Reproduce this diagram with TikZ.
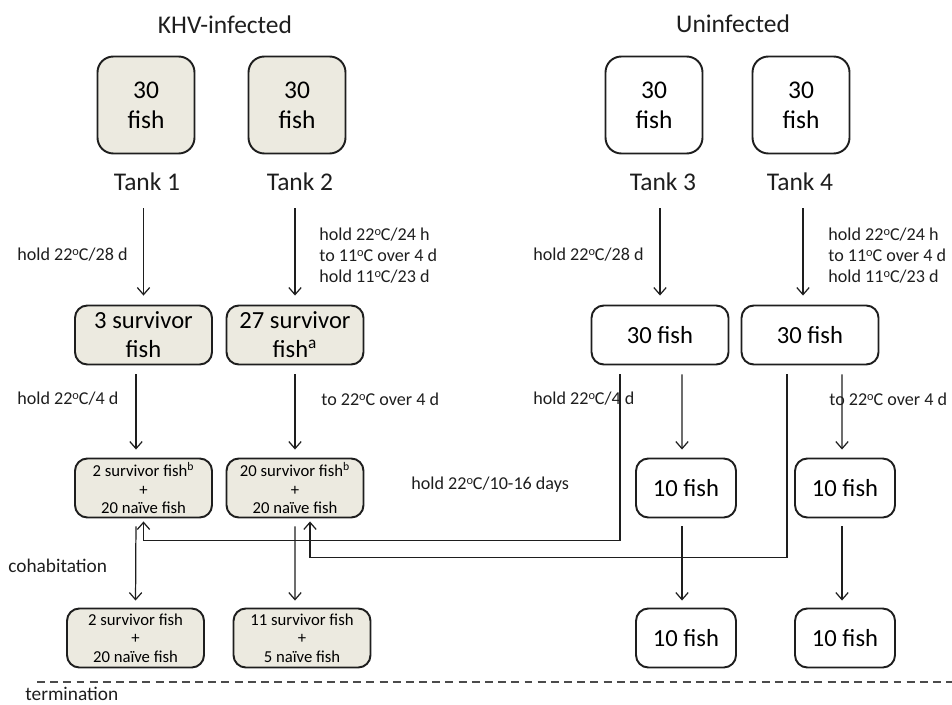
\documentclass[tikz,border=0pt]{standalone}
\usepackage{fontspec}
\setmainfont{Carlito}
\usetikzlibrary{arrows.meta}
\definecolor{khvfill}{RGB}{236,234,224}
\definecolor{inkgrey}{RGB}{30,30,30}
\tikzset{
  title/.style={font=\fontsize{14.5}{17}\selectfont, text=inkgrey},
  tanklab/.style={font=\fontsize{14.5}{17}\selectfont, text=inkgrey},
  steplab/.style={font=\fontsize{10.3}{12}\selectfont, anchor=west, align=left, inner sep=0pt, text=inkgrey},
  khv/.style={fill=khvfill},
  tankbox/.style={draw=inkgrey, rounded corners=9pt, line width=1.1pt, minimum width=1.94cm, minimum height=1.94cm, align=center, font=\fontsize{14.5}{17}\selectfont},
  groupbox/.style={draw=inkgrey, rounded corners=7pt, line width=1.1pt, minimum width=2.74cm, minimum height=1.18cm, align=center, font=\fontsize{14}{16.5}\selectfont},
  mixbox/.style={draw=inkgrey, rounded corners=7pt, line width=1.1pt, minimum width=2.74cm, minimum height=1.18cm, align=center, inner sep=1pt, font=\fontsize{9.5}{10.5}\selectfont},
  smallbox/.style={draw=inkgrey, rounded corners=7pt, line width=1.1pt, minimum width=2cm, minimum height=1.18cm, align=center, font=\fontsize{14}{16.5}\selectfont},
  arr/.style={draw=inkgrey, line width=0.7pt, -{Straight Barb[length=4pt,width=7pt]}},
}
\newcommand{\degC}{{\fontsize{7}{7}\selectfont\raisebox{0.85ex}{o}}C}
\begin{document}
\begin{tikzpicture}[x=0.02cm, y=-0.02cm]
\useasboundingbox (0,0) rectangle (952,705);

% headings
\node[title] (khvhead) at (225,25) {KHV-infected};
\node[title] (unhead) at (733,24) {Uninfected};

% tanks
\node[tankbox, khv] (tank1) at (146,105) {30\\fish};
\node[tankbox, khv] (tank2) at (297,105) {30\\fish};
\node[tankbox] (tank3) at (654,105) {30\\fish};
\node[tankbox] (tank4) at (801,105) {30\\fish};
\node[tanklab] (lab1) at (147,182) {Tank 1};
\node[tanklab] (lab2) at (300,182) {Tank 2};
\node[tanklab] (lab3) at (663,182) {Tank 3};
\node[tanklab] (lab4) at (800,182) {Tank 4};

% after holding
\node[groupbox, khv] (surv1) at (143.5,335) {3 survivor\\fish};
\node[groupbox, khv] (surv2) at (295,335) {27 survivor\\fish\textsuperscript{a}};
\node[groupbox] (ctrl3) at (660,335) {30 fish};
\node[groupbox] (ctrl4) at (810,335) {30 fish};

% cohabitation tanks
\node[mixbox, khv] (mix1) at (143.5,488) {2 survivor fish$^{\mathrm{b}}$\\+\\20 naïve fish};
\node[mixbox, khv] (mix2) at (295,488) {20 survivor fish$^{\mathrm{b}}$\\+\\20 naïve fish};
\node[smallbox] (ten3) at (686,488) {10 fish};
\node[smallbox] (ten4) at (845,488) {10 fish};

% at termination
\node[mixbox, khv] (end1) at (135.5,638) {2 survivor fish\\+\\20 naïve fish};
\node[mixbox, khv] (end2) at (302,638) {11 survivor fish\\+\\5 naïve fish};
\node[smallbox] (fin3) at (686,638) {10 fish};
\node[smallbox] (fin4) at (845,638) {10 fish};

% temperature steps
\node[steplab] (hold1) at (17,255) {hold 22\degC/28 d};
\node[steplab] (cool2) at (319,256) {hold 22\degC/24 h\\to 11\degC{} over 4 d\\hold 11\degC/23 d};
\node[steplab] (hold3) at (533,255) {hold 22\degC/28 d};
\node[steplab] (cool4) at (828,256) {hold 22\degC/24 h\\to 11\degC{} over 4 d\\hold 11\degC/23 d};
\node[steplab] (warm1) at (17,399) {hold 22\degC/4 d};
\node[steplab] (warm2) at (321,399) {to 22\degC{} over 4 d};
\node[steplab] (warm3) at (533,399) {hold 22\degC/4 d};
\node[steplab] (warm4) at (829,399) {to 22\degC{} over 4 d};
\node[steplab] (cohold) at (411,485) {hold 22\degC/10-16 days};
\node[steplab, font=\fontsize{11}{13}\selectfont] (cohab) at (8,566) {cohabitation};
\node[steplab, font=\fontsize{11}{13}\selectfont, anchor=base west] (term) at (25,700) {termination};

% arrows
\draw[arr, shorten <=0.22cm, shorten >=0.18cm] (surv1.north |- lab1.south) -- (surv1.north);
\draw[arr, shorten <=0.22cm, shorten >=0.18cm] (surv2.north |- lab2.south) -- (surv2.north);
\draw[arr, shorten <=0.22cm, shorten >=0.18cm] (ctrl3.north |- lab3.south) -- (ctrl3.north);
\draw[arr, shorten <=0.22cm, shorten >=0.18cm] ([xshift=-0.14cm]ctrl4.north |- lab4.south) -- ([xshift=-0.14cm]ctrl4.north);

\draw[arr, shorten <=0.18cm, shorten >=0.16cm] ([xshift=-0.15cm]surv1.south) -- ([xshift=-0.15cm]mix1.north);
\draw[arr, shorten <=0.18cm, shorten >=0.16cm] (surv2.south) -- (mix2.north);
\draw[arr, shorten <=0.18cm, shorten >=0.16cm] ([xshift=0.44cm]ctrl3.south) -- ([xshift=-0.08cm]ten3.north);
\draw[arr, shorten <=0.18cm, shorten >=0.16cm] ([xshift=0.64cm]ctrl4.south) -- ([xshift=-0.06cm]ten4.north);

\draw[arr, shorten <=0.16cm, shorten >=0.14cm] ([xshift=-0.15cm]mix1.south) -- (end1.north);
\draw[arr, shorten <=0.16cm, shorten >=0.14cm] (mix2.south) -- ([xshift=-0.14cm]end2.north);
\draw[arr, shorten <=0.16cm, shorten >=0.14cm] ([xshift=-0.08cm]ten3.south) -- ([xshift=-0.08cm]fin3.north);
\draw[arr, shorten <=0.16cm, shorten >=0.14cm] ([xshift=-0.06cm]ten4.south) -- ([xshift=-0.06cm]fin4.north);

% naive fish moved into the KHV tanks
\draw[arr, shorten <=0.18cm, shorten >=0.06cm] ([xshift=-0.8cm]ctrl3.south) -- ++(0,175) -| (mix1.south);
\draw[arr, shorten <=0.18cm, shorten >=0.06cm] ([xshift=-0.46cm]ctrl4.south) -- ++(0,192) -| ([xshift=0.3cm]mix2.south);

% termination line
\coordinate (cutL) at (37,682);
\coordinate (cutR) at (952,682);
\draw[inkgrey!80, line width=0.6pt, dash pattern=on 4.5pt off 3pt] (cutL) -- (cutR);
\end{tikzpicture}
\end{document}
